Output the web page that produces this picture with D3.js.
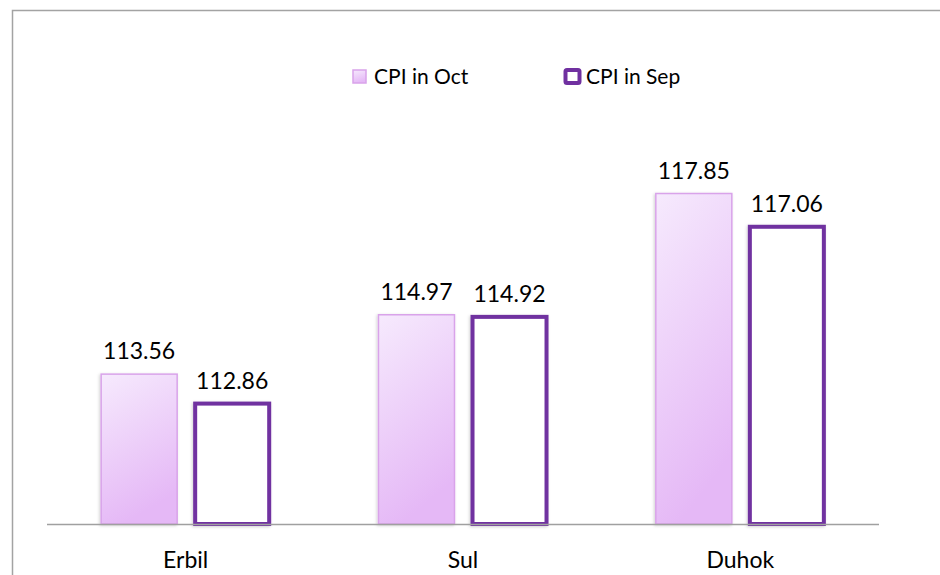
<!DOCTYPE html>
<html>
<head>
<meta charset="utf-8">
<script src="https://cdn.jsdelivr.net/npm/d3@7"></script>
<style>
  body { margin: 0; background: #fff; }
  text { font-family: Lato, "Open Sans", sans-serif; fill: #000; }
</style>
</head>
<body>
<div id="chart"></div>
<script>
const WIDTH = 940;
const HEIGHT = 575;

// data
const cities = ["Erbil", "Sul", "Duhok"];
const series = ["CPI in Oct", "CPI in Sep"];
const cpiOct = [113.56, 114.97, 117.85];
const cpiSep = [112.86, 114.92, 117.06];
const yDomain = [110, 120];

const rows = cities.map((c, i) => ({ city: c, values: [cpiOct[i], cpiSep[i]] }));

const svg = d3.select("#chart")
    .append("svg")
    .attr("width", WIDTH)
    .attr("height", HEIGHT);

const defs = svg.append("defs");

// soft fill for the Oct bars
const grad = defs.append("linearGradient")
    .attr("id", "octFill")
    .attr("x1", "0%").attr("y1", "0%")
    .attr("x2", "30%").attr("y2", "100%");
grad.append("stop").attr("offset", "0%").attr("stop-color", "#f6eafd");
grad.append("stop").attr("offset", "100%").attr("stop-color", "#e5b8f6");

const shadow = defs.append("filter")
    .attr("id", "shade")
    .attr("x", "-10%").attr("y", "-10%")
    .attr("width", "120%").attr("height", "120%");
shadow.append("feDropShadow")
    .attr("dx", -1).attr("dy", 1)
    .attr("stdDeviation", 1.5)
    .attr("flood-color", "#000")
    .attr("flood-opacity", 0.18);

// chart border (runs off the right / bottom edge)
svg.append("rect")
    .attr("x", 12.5).attr("y", 10.5)
    .attr("width", 1000).attr("height", 1000)
    .attr("fill", "none")
    .attr("stroke", "#a3a3a3")
    .attr("stroke-width", 1.5);

// scales
const x0 = d3.scaleBand()
    .domain(cities)
    .range([47, 879]);

const x1 = d3.scaleBand()
    .domain(series)
    .range([0, x0.bandwidth()])
    .paddingInner(0.183)
    .paddingOuter(0.582);

const y = d3.scaleLinear()
    .domain(yDomain)
    .range([524, 103]);

const group = svg.append("g");

const cityG = group.selectAll(".city")
    .data(rows)
    .join("g")
    .attr("class", "city")
    .attr("transform", d => `translate(${x0(d.city)},0)`);

const bars = cityG.selectAll("rect")
    .data(d => d.values.map((v, i) => ({ key: series[i], value: v })))
    .join("rect")
    .attr("x", d => x1(d.key) + (d.key === series[1] ? 1 : 0))
    .attr("y", d => y(d.value))
    .attr("width", d => x1.bandwidth() - (d.key === series[1] ? 2 : 0))
    .attr("height", d => y(yDomain[0]) - y(d.value))
    .attr("fill", d => d.key === series[0] ? "url(#octFill)" : "#ffffff")
    .attr("stroke", d => d.key === series[0] ? "#d9a3ea" : "#7030a0")
    .attr("stroke-width", d => d.key === series[0] ? 1.5 : 4)
    .attr("filter", "url(#shade)");

// value labels
cityG.selectAll(".val")
    .data(d => d.values.map((v, i) => ({ key: series[i], value: v })))
    .join("text")
    .attr("class", "val")
    .attr("x", d => x1(d.key) + x1.bandwidth() / 2)
    .attr("y", d => y(d.value) - 15)
    .attr("text-anchor", "middle")
    .attr("font-size", 23)
    .text(d => d.value.toFixed(2));

// x axis line
group.append("line")
    .attr("x1", x0.range()[0]).attr("x2", x0.range()[1])
    .attr("y1", y(yDomain[0]) + 0.5).attr("y2", y(yDomain[0]) + 0.5)
    .attr("stroke", "#a0a0a0")
    .attr("stroke-width", 1.5);

// category labels
group.selectAll(".cat")
    .data(cities)
    .join("text")
    .attr("class", "cat")
    .attr("x", d => x0(d) + x0.bandwidth() / 2)
    .attr("y", 568)
    .attr("text-anchor", "middle")
    .attr("font-size", 23)
    .text(d => d);

// legend
const legendX = [353, 564];
const legend = svg.append("g")
    .selectAll("g")
    .data(series)
    .join("g")
    .attr("transform", (d, i) => `translate(${legendX[i]},70)`);

legend.append("rect")
    .attr("x", (d, i) => i === 0 ? 0 : 1.5)
    .attr("y", (d, i) => i === 0 ? 0 : 0)
    .attr("width", (d, i) => i === 0 ? 13 : 14)
    .attr("height", (d, i) => i === 0 ? 13 : 13)
    .attr("fill", (d, i) => i === 0 ? "url(#octFill)" : "#ffffff")
    .attr("stroke", (d, i) => i === 0 ? "#d9a3ea" : "#7030a0")
    .attr("stroke-width", (d, i) => i === 0 ? 1.5 : 4)
    .attr("rx", (d, i) => i === 0 ? 0 : 1.5);

legend.append("text")
    .attr("x", (d, i) => i === 0 ? 21 : 22)
    .attr("y", 14)
    .attr("font-size", 21)
    .text(d => d);
</script>
</body>
</html>
